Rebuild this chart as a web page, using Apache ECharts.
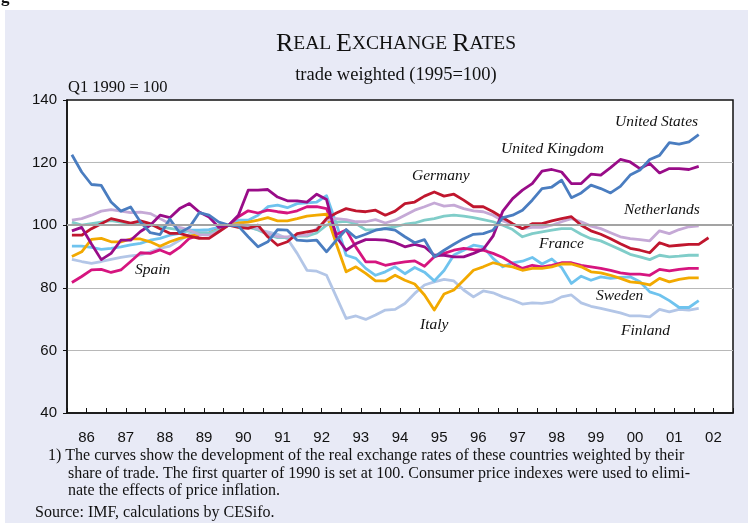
<!DOCTYPE html>
<html>
<head>
<meta charset="utf-8">
<script src="https://cdn.jsdelivr.net/npm/echarts@6/dist/echarts.min.js"></script>
<style>
  html, body { margin: 0; padding: 0; background: #ffffff; }
  #chart { width: 748px; height: 523px; }
</style>
</head>
<body>
<div id="chart"></div>
<script>
// Quarterly real effective exchange rates, Q1 1990 = 100, from 1986 Q1
const startYear = 1986;
const yearTicks = ['86','87','88','89','90','91','92','93','94','95','96','97','98','99','00','01','02'];

const unitedStates = [122.5,117,113,112.7,107.4,104.5,105.8,101,97.6,97,102,97.6,99.3,104,103.2,101,100,
  99.7,96.3,93.1,94.7,98.6,98.4,95.2,95,95.2,91.5,95.2,98.6,96,97.1,98.4,98.9,98.4,
  96.3,94.4,95.4,89.9,92,93.9,95.7,97.1,97.3,98.4,102.4,103.2,104.8,108,111.7,112.2,114.4,
  108.8,110.3,112.8,111.7,110.3,112.4,116,117.6,121,122.3,126.4,125.9,126.6,128.9];

const unitedKingdom = [98.2,99.3,94,89,91,95.2,95.2,98,100,103.2,102.4,105.3,106.9,104.2,102.6,99.3,100,
  103.2,111.2,111.2,111.4,109,107.8,107.8,107.4,109.9,108.2,96.3,92,94.1,95.4,95.4,95.2,94.5,
  93.1,93.9,93.1,90.4,90.4,89.9,89.9,91,92.3,96.5,104.5,108.5,111.2,113.3,117.3,117.8,117,
  113.3,113.3,116.3,116,118.4,121,120.2,118.1,119.7,116.7,118.1,118.1,117.8,118.8];

const germany = [96.8,96.8,98.9,100.5,102.1,101.4,100.7,101.4,100.5,98.9,97.4,97.4,96.5,95.8,95.8,97.9,100,
  99.3,99,100,96.3,93.6,94.7,97.3,97.9,98.4,102.1,103.9,105.3,104.6,104.3,104.8,103.2,104.5,
  106.9,107.4,109.3,110.6,109.3,109.9,108,105.9,105.9,104.3,102.4,100.5,98.9,100.5,100.5,101.4,102.1,
  102.7,100,98.2,97.1,95.7,94.1,92.6,92,91.2,94.4,93.3,93.6,93.9,93.9,96];

const netherlands = [101.6,102.1,103.2,104.5,105,104.5,104,104.2,103.7,102.1,100.5,99.3,98.4,97,96.8,98,100,
  100,100,98.9,97.3,96.3,96.3,96.8,96.8,98.9,101.6,102.1,101.8,101.1,101.1,101.8,100.7,101.6,
  103.2,104.8,105.9,107.1,106.1,106.4,105.3,104.6,104.3,103.2,101.4,100.3,98.9,99.3,99.3,100,101.1,
  102.1,101.1,99.7,98.9,97.6,96.3,95.7,95.4,95,98.2,97.3,98.6,99.5,99.8];

const france = [101,100,100.5,101,101.5,101,100.5,100.5,100,99.5,99,98.5,98,97.5,97.5,98.5,100,
  100,99.5,98.5,97,96,96,96.5,96.5,97.5,100,101,101.2,100.5,98.5,98.5,99,99.5,
  100.3,100.7,101.6,102.1,102.9,103.2,102.9,102.4,101.8,101.1,100,98.6,96.3,97.3,97.9,98.4,98.9,
  98.9,97.1,95.7,95,93.6,92.2,90.7,89.9,89,90.4,89.9,90.1,90.4,90.4];

const italy = [90,91.5,95.5,95.8,94.7,94.7,95.6,95.6,94.7,93.3,94.7,95.8,96.5,97,97.5,98.5,100,
  100.7,101,101.6,102.4,101.4,101.4,102.1,102.9,103.2,103.5,94,85.1,86.7,84.6,82.2,82.2,84,
  82.4,81.2,77.7,72.9,78,79.3,82.4,85.6,86.7,88,87.2,86.7,85.6,86.2,86.2,86.7,87.6,
  87.6,86.7,85.1,84.8,84,83,81.9,81.6,80.9,83,81.9,82.7,83.2,83.2];

const spain = [81.7,83.6,85.7,85.9,84.9,85.7,88.4,91.2,91,92.1,90.8,92.9,95.8,96.8,97.4,98.6,100,
  102.7,104.6,103.9,104.8,104.3,103.9,104.6,105.9,105.9,105.3,97,98.5,93,88.3,88.3,87.2,87.8,
  88.3,88.6,86.9,89.9,91,92,92.6,92.2,92,91,89.7,87.8,86.2,87.2,86.7,87.2,88,
  88,87.2,86.7,86.2,85.6,84.8,84.4,84.4,84,85.9,85.4,85.9,86.2,86.2];

const sweden = [93.3,93.3,92.9,92.3,92.6,93.1,93.7,94.2,95.2,95.8,96.8,97.4,98.4,98.4,98.6,99.3,100,
  101.6,101.6,103.2,105.9,106.4,105.6,106.9,107.1,107.4,109.4,100.5,90.4,89.4,86.2,84,85.1,86.7,
  84.5,86.5,85,82.2,85.5,90.5,92,93.6,93.1,89.4,86.7,88,88.5,89.7,87.6,89.2,86.5,
  81.4,83.7,82.4,83.5,83,83.3,83.5,81.9,78.7,77.7,75.9,73.7,73.7,75.9];

const finland = [89.1,88.4,87.8,88.4,89.1,89.7,90.2,90.5,91.5,92.6,93.3,95.2,97.1,97.9,98.4,99.3,100,
  100.5,99.3,98.6,97.9,97.1,95.7,91,85.6,85.3,84,77.1,70.2,71,69.9,71.3,72.9,73.1,
  75,78.2,80.9,81.9,82.7,82.2,79.3,77.1,79,78.4,77.1,76.1,74.8,75.2,75,75.5,77.1,
  77.7,75.2,74.1,73.4,72.7,72,71,71,70.7,73.1,72.3,73.1,72.9,73.4];

// place each quarter at its mid point on the year scale
function quarterly(values) {
  return values.map((v, i) => [startYear + i * 0.25 + 0.125, v]);
}

const seriesDefs = [
  { name: 'Finland', data: finland, color: '#b3c6e7' },
  { name: 'Sweden', data: sweden, color: '#6fc3ee' },
  { name: 'Spain', data: spain, color: '#d6157f' },
  { name: 'Italy', data: italy, color: '#f2a900' },
  { name: 'France', data: france, color: '#80cdc9' },
  { name: 'Netherlands', data: netherlands, color: '#c5a9d6' },
  { name: 'Germany', data: germany, color: '#c0162e' },
  { name: 'United Kingdom', data: unitedKingdom, color: '#990c88' },
  { name: 'United States', data: unitedStates, color: '#4a7dc0' }
];

const serif = '"Liberation Serif", "Times New Roman", serif';
const sans = '"Liberation Sans", Arial, sans-serif';

const series = [{
  type: 'line', data: [], silent: true,
  markLine: {
    silent: true, symbol: 'none', label: { show: false },
    lineStyle: { color: '#a3a3a3', width: 2, type: 'solid' },
    data: [{ yAxis: 100 }]
  }
}].concat(seriesDefs.map(s => ({
  name: s.name,
  type: 'line',
  data: quarterly(s.data),
  showSymbol: false,
  symbol: 'none',
  lineStyle: { color: s.color, width: 2.8, join: 'round' },
  itemStyle: { color: s.color },
  animation: false
})));

const labels = [
  { text: 'United States', x: 615, y: 114 },
  { text: 'United Kingdom', x: 501, y: 141 },
  { text: 'Germany', x: 412, y: 168 },
  { text: 'Netherlands', x: 624, y: 202 },
  { text: 'France', x: 539, y: 236 },
  { text: 'Spain', x: 135, y: 262 },
  { text: 'Sweden', x: 596, y: 288 },
  { text: 'Italy', x: 420, y: 317 },
  { text: 'Finland', x: 621, y: 323 }
];

const footnote = [
  { text: '1) The curves show the development of the real exchange rates of these countries weighted by their', x: 48, y: 448 },
  { text: 'share of trade. The first quarter of 1990 is set at 100. Consumer price indexes were used to elimi-', x: 68, y: 466 },
  { text: 'nate the effects of price inflation.', x: 68, y: 483 },
  { text: 'Source: IMF, calculations by CESifo.', x: 35, y: 505 }
];

const chart = echarts.init(document.getElementById('chart'), null, { renderer: 'canvas' });

chart.setOption({
  backgroundColor: '#ffffff',
  animation: false,
  title: {
    text: '{b|R}{s|EAL }{b|E}{s|XCHANGE }{b|R}{s|ATES}',
    subtext: 'trade weighted (1995=100)',
    left: 391, top: 26, textAlign: 'center',
    itemGap: 9,
    textStyle: {
      fontWeight: 'normal',
      rich: {
        b: { fontFamily: serif, fontSize: 26, fontWeight: 'normal', color: '#111' },
        s: { fontFamily: serif, fontSize: 19.5, fontWeight: 'normal', color: '#111' }
      }
    },
    subtextStyle: { fontFamily: serif, fontSize: 18.5, color: '#111' }
  },
  graphic: [
    { type: 'rect', z: -10, shape: { x: 5, y: 10, width: 743, height: 513 }, style: { fill: '#e8eaf6' } },
    { type: 'text', left: 1, top: -11, style: { text: 'g', font: 'bold 17px ' + serif, fill: '#111' } },
    { type: 'text', x: 68, y: 79, style: { text: 'Q1 1990 = 100', font: '16.5px ' + serif, fill: '#111' } }
  ].concat(labels.map(l => ({
    type: 'text', x: l.x, y: l.y, z: 50,
    style: { text: l.text, font: 'italic 15.5px ' + serif, fill: '#111' }
  }))).concat(footnote.map(f => ({
    type: 'text', x: f.x, y: f.y,
    style: { text: f.text, font: '16px ' + serif, fill: '#111' }
  }))),
  grid: {
    left: 67, right: 15, top: 100, bottom: 110,
    show: true, backgroundColor: '#ffffff', borderColor: '#111', borderWidth: 1.5
  },
  xAxis: {
    type: 'value', min: 1986, max: 2003, interval: 0.5,
    axisLine: { show: true, lineStyle: { color: '#111', width: 1.5 } },
    axisTick: { show: true, inside: true, length: 5, lineStyle: { color: '#111', width: 1 } },
    splitLine: { show: false },
    axisLabel: {
      margin: 17, color: '#111', fontFamily: sans, fontSize: 15,
      showMinLabel: true, showMaxLabel: true,
      formatter: function (v) {
        const k = Math.round((v - startYear - 0.5) * 2);
        return (k % 2 === 0 && k >= 0 && k / 2 < yearTicks.length) ? yearTicks[k / 2] : '';
      }
    }
  },
  yAxis: {
    type: 'value', min: 40, max: 140, interval: 20,
    axisLine: { show: true, lineStyle: { color: '#111', width: 1.5 } },
    axisTick: { show: true, inside: false, length: 4, lineStyle: { color: '#111' } },
    axisLabel: { margin: 10, color: '#111', fontFamily: sans, fontSize: 15 },
    splitLine: {
      show: true,
      lineStyle: { color: ['transparent', '#b8b8b8', '#b8b8b8', 'transparent', '#b8b8b8', 'transparent'], width: 1 }
    }
  },
  series: series
});
</script>
</body>
</html>
